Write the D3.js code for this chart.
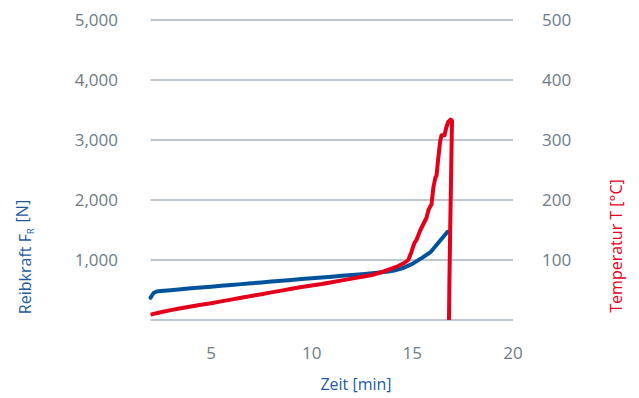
<!DOCTYPE html>
<html><head><meta charset="utf-8">
<script src="https://cdn.jsdelivr.net/npm/d3@7"></script>
<style>
body{margin:0;background:#fff;}
text{font-family:"Open Sans",sans-serif;}
</style></head>
<body><svg id="c" width="639" height="398"></svg>
<script>
const forceTicks=[1000,2000,3000,4000,5000];
const tempTicks=[100,200,300,400,500];
const timeTicks=[5,10,15,20];
const forceTime=[2.0,2.05,2.15,2.3,2.5,3,3.5,4,4.5,5,5.5,6,6.5,7,7.5,8,8.5,9,9.5,10,10.5,11,11.5,12,12.5,13,13.5,13.9,14.1,14.5,15,15.5,15.9,16.2,16.5,16.75];
const forceVal=[370,400,450,475,483,497,512,528,542,556,570,584,598,612,626,640,654,668,682,695,709,722,736,750,764,778,795,812,825,860,935,1040,1130,1250,1370,1470];
const tempTime=[2.0,2.5,3.0,3.5,4.0,4.5,5.0,5.5,6.0,6.5,7.0,7.5,8.0,8.5,9.0,9.5,10,10.5,11,11.5,12,12.5,13,13.5,14,14.3,14.6,14.8,14.95,15.1,15.2,15.4,15.55,15.7,15.8,15.9,15.95,16.05,16.15,16.2,16.28,16.38,16.45,16.6,16.68,16.78,16.9,16.97,16.93,16.88,16.84,16.82];
const tempVal=[9,13,16.5,19.5,22.5,25.5,28,31,34,37,40,43,46,49,52,55,57.5,60,63,66,69,72,75,80,86,90,95,100,113,128,133,150,160,170,183,190,192,222,238,240,267,297,308,308,320,330,334,332,250,150,60,0];

const svg=d3.select("#c");
const x=d3.scaleLinear().domain([2,20]).range([150.6,513]);
const yL=d3.scaleLinear().domain([0,5000]).range([320,20]);
const yR=d3.scaleLinear().domain([0,500]).range([320,20]);
const grey="#6e7b85", gridC="#a9b5be";

// gridlines
svg.append("g").selectAll("line").data([0].concat(forceTicks)).join("line")
  .attr("x1",x(2)).attr("x2",x(20)).attr("y1",d=>yL(d)).attr("y2",d=>yL(d))
  .attr("stroke",gridC).attr("stroke-width",1.5);

// left ticks
svg.append("g").selectAll("text").data(forceTicks).join("text")
  .attr("x",118).attr("y",d=>yL(d)).attr("dy","0.36em").attr("text-anchor","end")
  .attr("fill",grey).attr("font-size",17).text(d=>d3.format(",")(d));
// right ticks
svg.append("g").selectAll("text").data(tempTicks).join("text")
  .attr("x",542).attr("y",d=>yR(d)).attr("dy","0.36em").attr("text-anchor","start")
  .attr("fill",grey).attr("font-size",17).text(d=>d);
// x ticks
svg.append("g").selectAll("text").data(timeTicks).join("text")
  .attr("x",d=>x(d)).attr("y",353).attr("dy","0.36em").attr("text-anchor","middle")
  .attr("fill",grey).attr("font-size",17).text(d=>d);

// titles
const blueT="#1d5aa0", redT="#e3001b";
svg.append("text").attr("x",356).attr("y",384).attr("dy","0.36em").attr("text-anchor","middle")
  .attr("fill",blueT).attr("font-size",16).text("Zeit [min]");
const lt=svg.append("text").attr("transform","translate(25,257) rotate(-90)").attr("dy","0.36em")
  .attr("text-anchor","middle").attr("fill",blueT).attr("font-size",16);
lt.append("tspan").text("Reibkraft F");
lt.append("tspan").attr("font-size",9).attr("dy","0.35em").text("R");
lt.append("tspan").attr("dy","-0.35em").attr("dx",2).text(" [N]");
svg.append("text").attr("transform","translate(616,246) rotate(-90)").attr("dy","0.36em")
  .attr("text-anchor","middle").attr("fill",redT).attr("font-size",16).text("Temperatur T [°C]");

// lines
const redLine=d3.line().x(d=>x(d[0])).y(d=>yR(d[1]));
const blueLine=d3.line().x(d=>x(d[0])).y(d=>yL(d[1]));
svg.append("path").datum(forceTime.map((t,i)=>[t,forceVal[i]])).attr("d",blueLine)
  .attr("fill","none").attr("stroke","#00539b").attr("stroke-width",4).attr("stroke-linejoin","round").attr("stroke-linecap","round");
svg.append("path").datum(tempTime.map((t,i)=>[t,tempVal[i]])).attr("d",redLine)
  .attr("fill","none").attr("stroke","#e3001b").attr("stroke-width",4).attr("stroke-linejoin","round");
</script></body></html>
